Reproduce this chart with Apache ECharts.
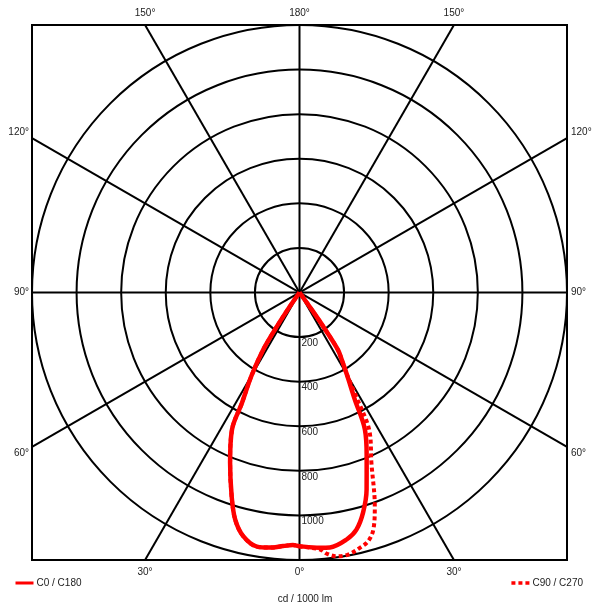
<!DOCTYPE html>
<html><head><meta charset="utf-8">
<script src="https://cdn.jsdelivr.net/npm/echarts@6/dist/echarts.min.js"></script>
<style>html,body{margin:0;padding:0;background:#fff}#c{width:603px;height:609px}</style>
</head><body><div id="c"></div>
<script>
// ---- data ----
const ringValues = [200, 400, 600, 800, 1000, 1200];
const ringLabels = [200, 400, 600, 800, 1000];
const spokeAngles = [0, 30, 60, 90, 120, 150];
const angleLabelAngles = [0, 30, 60, 90, 120, 150, 180, -30, -60, -90, -120, -150];

// C0 (right half), angle from nadir in degrees, intensity cd/1000lm
const c0Angles = [0, 4.6, 6.8, 10.8, 13.5, 16.1, 18.8, 22.3, 25.5, 27.3, 30, 32, 33.8, 34.8, 35.5, 36];
const c0Values = [1138, 1149, 1152, 1128, 1094, 1028, 934, 794, 682, 542, 425, 360, 310, 200, 100, 0];
// C180 (left half)
const c180Angles = [0, 1.5, 3.7, 6.6, 9.5, 13, 15.8, 18.4, 22.2, 26.2, 27.5, 30, 32.4, 33.5, 34.5, 35.5];
const c180Values = [1138, 1133, 1140, 1152, 1156, 1122, 1059, 964, 824, 686, 560, 430, 305, 200, 100, 0];
// C90 (right half)
const c90Angles = [0, 4.6, 5.9, 8, 10.5, 13.3, 15.4, 17.3, 19.4, 22.9, 26.6, 28.5, 30, 32, 33.8, 34.8, 35.5, 36];
const c90Values = [1138, 1157, 1177, 1195, 1196, 1177, 1158, 1114, 1017, 829, 704, 540, 425, 360, 310, 200, 100, 0];
// C270 (left half)
const c270Angles = c180Angles.slice();
const c270Values = c180Values.slice();

const MAXV = 1200;
const FONT = 'Liberation Sans, Arial, sans-serif';
const TXT = '#222';

function toXY(angles, values, side) {
  return angles.map((a, i) => {
    const r = a * Math.PI / 180;
    return [side * values[i] * Math.sin(r), -values[i] * Math.cos(r)];
  });
}
function plane(leftA, leftV, rightA, rightV) {
  const left = toXY(leftA, leftV, -1).reverse();
  const right = toXY(rightA, rightV, 1).slice(1);
  return left.concat(right);
}

const solidData = plane(c180Angles, c180Values, c0Angles, c0Values);
const dottedData = plane(c270Angles, c270Values, c90Angles, c90Values);

const chart = echarts.init(document.getElementById('c'));
chart.setOption({
  animation: false,
  backgroundColor: '#fff',
  title: {
    text: 'cd / 1000 lm', left: 300, top: 589, textAlign: 'center',
    textStyle: {fontSize: 10, fontWeight: 'normal', color: TXT, fontFamily: FONT}
  },
  legend: [
    {data: ['C0 / C180'], left: 14, top: 578, itemWidth: 18, itemHeight: 8, padding: 0,
     itemStyle: {opacity: 0},
     textStyle: {fontSize: 10, color: TXT, fontFamily: FONT, padding: [0, 0, 0, -2]}, lineStyle: {width: 3}},
    {data: ['C90 / C270'], right: 20, top: 578, itemWidth: 18, itemHeight: 8, padding: 0,
     itemStyle: {opacity: 0},
     textStyle: {fontSize: 10, color: TXT, fontFamily: FONT, padding: [0, 0, 0, -2]}, lineStyle: {width: 3.5}}
  ],
  grid: {left: 32, top: 25, width: 535, height: 535, show: true, borderColor: '#000', borderWidth: 2, backgroundColor: 'transparent'},
  xAxis: {type: 'value', min: -MAXV, max: MAXV, show: false},
  yAxis: {type: 'value', min: -MAXV, max: MAXV, show: false},
  series: [
    {
      type: 'custom', silent: true, z: 1,
      data: ringValues.map(v => [0, 0, v]),
      renderItem(params, api) {
        const c = api.coord([0, 0]);
        const v = api.value(2);
        const r = api.size([v, v])[0];
        return {type: 'circle', shape: {cx: c[0], cy: c[1], r: r},
                style: {fill: 'none', stroke: '#000', lineWidth: 2}};
      }
    },
    {
      type: 'custom', silent: true, z: 1,
      data: spokeAngles.map(a => [0, 0, a]),
      renderItem(params, api) {
        const a = api.value(2) * Math.PI / 180;
        const dx = Math.sin(a), dy = -Math.cos(a);
        const t = MAXV / Math.max(Math.abs(dx), Math.abs(dy));
        const p1 = api.coord([t * dx, t * dy]);
        const p2 = api.coord([-t * dx, -t * dy]);
        return {type: 'line', shape: {x1: p1[0], y1: p1[1], x2: p2[0], y2: p2[1]},
                style: {stroke: '#000', lineWidth: 2}};
      }
    },
    {
      name: 'C90 / C270', type: 'line', data: dottedData, symbol: 'none', smooth: 0.35, z: 3,
      lineStyle: {color: '#ff0000', width: 4, type: [4, 3], cap: 'butt'},
      itemStyle: {color: '#ff0000'}
    },
    {
      name: 'C0 / C180', type: 'line', data: solidData, symbol: 'none', smooth: 0.35, z: 4,
      lineStyle: {color: '#ff0000', width: 4.5},
      itemStyle: {color: '#ff0000'}
    },
    {
      type: 'custom', silent: true, z: 5,
      data: ringLabels.map(v => [0, 0, v]),
      renderItem(params, api) {
        const v = api.value(2);
        const c = api.coord([0, -v]);
        return {type: 'text', x: c[0] + 2, y: c[1] + 6,
                style: {text: String(v), fill: TXT, fontSize: 10, fontFamily: FONT, align: 'left', verticalAlign: 'middle'}};
      }
    },
    {
      type: 'custom', silent: true, z: 5, clip: false,
      data: angleLabelAngles.map(a => [0, 0, a]),
      renderItem(params, api) {
        const deg = api.value(2);
        const a = deg * Math.PI / 180;
        const dx = Math.sin(a), dy = -Math.cos(a);
        const t = MAXV / Math.max(Math.abs(dx), Math.abs(dy));
        const p = api.coord([t * dx, t * dy]);
        let x, y, align;
        if (Math.abs(dy) >= Math.abs(dx) - 1e-9) {
          x = p[0]; y = p[1] + (dy > 0 ? -12 : 12); align = 'center';
        } else {
          x = p[0] + (dx > 0 ? 4 : -3); y = p[1] - dy * 12; align = dx > 0 ? 'left' : 'right';
        }
        return {type: 'text', x: x, y: y,
                style: {text: Math.abs(deg) + '°', fill: TXT, fontSize: 10, fontFamily: FONT, align: align, verticalAlign: 'middle'}};
      }
    }
  ]
});
</script>
</body></html>
